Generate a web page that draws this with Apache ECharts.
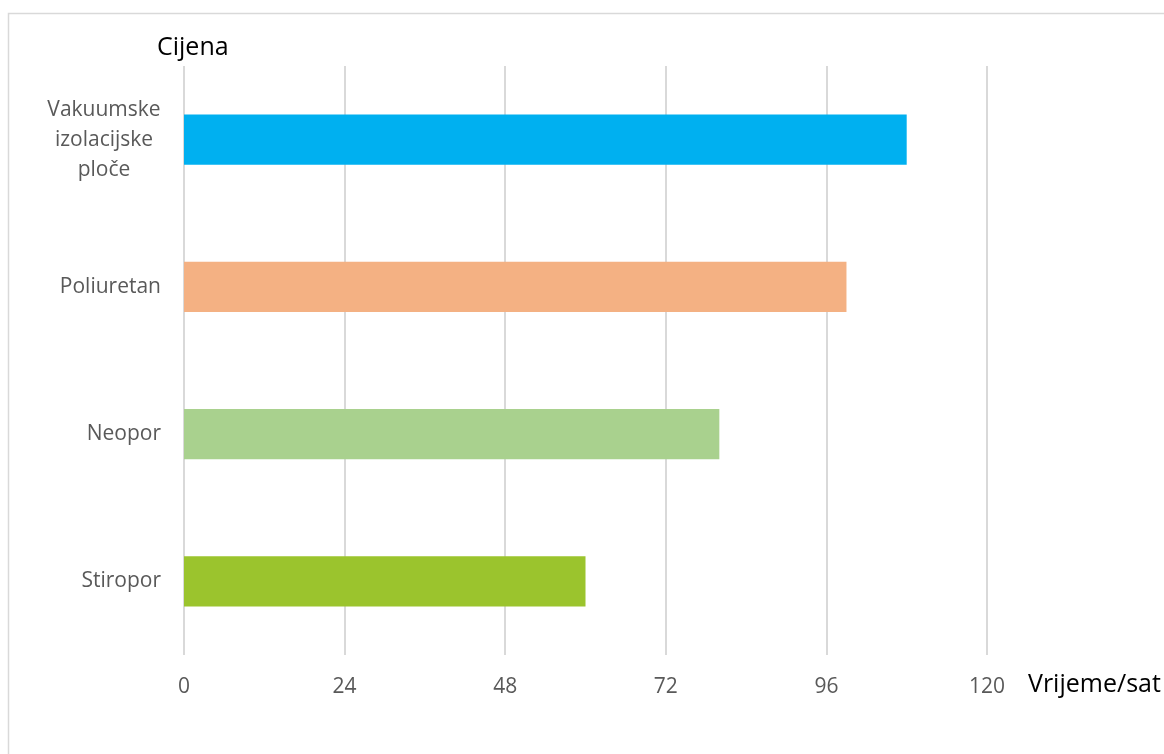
<!DOCTYPE html>
<html>
<head>
<meta charset="utf-8">
<script src="https://cdn.jsdelivr.net/npm/echarts@6/dist/echarts.min.js"></script>
<style>
html,body{margin:0;padding:0;background:#fff;}
#chart{width:1164px;height:754px;}
</style>
</head>
<body>
<div id="chart"></div>
<script>
const categories = ['Vakuumske izolacijske ploče', 'Poliuretan', 'Neopor', 'Stiropor'];
const values = [108, 99, 80, 60];
const barColors = ['#00B0F0', '#F4B183', '#A9D18E', '#9BC42D'];
const xTicks = { min: 0, max: 120, interval: 24 };
const yTitle = 'Cijena';
const xTitle = 'Vrijeme/sat';

const FONT = '"Open Sans", sans-serif';
const chart = echarts.init(document.getElementById('chart'), null, { renderer: 'canvas' });

chart.setOption({
  backgroundColor: '#ffffff',
  animation: false,
  title: {
    text: yTitle,
    left: 152,
    top: 30,
    textStyle: { fontFamily: FONT, fontSize: 25, fontWeight: 'normal', color: '#000000' }
  },
  graphic: [{
    type: 'rect',
    shape: { x: 8.5, y: 13.5, width: 1300, height: 900 },
    style: { fill: 'none', stroke: '#d9d9d9', lineWidth: 1.5 },
    silent: true
  }, {
    type: 'text',
    left: 1028,
    top: 672,
    style: { text: xTitle, font: '25px "Open Sans", sans-serif', fill: '#000000' },
    silent: true
  }],
  grid: { left: 184, right: 177, top: 66, bottom: 99, containLabel: false },
  xAxis: {
    type: 'value',
    min: xTicks.min,
    max: xTicks.max,
    interval: xTicks.interval,
    axisLine: { show: false },
    axisTick: { show: false },
    axisLabel: { fontFamily: FONT, fontSize: 21, color: '#595959', margin: 22 },
    splitLine: { show: true, lineStyle: { color: '#d9d9d9', width: 2 } }
  },
  yAxis: {
    type: 'category',
    data: categories,
    inverse: true,
    axisLine: { show: false },
    axisTick: { show: false },
    axisLabel: {
      fontFamily: FONT, fontSize: 21, color: '#595959', margin: 23, lineHeight: 30,
      formatter: function (v) {
        const parts = v.split(' ');
        if (parts.length > 1) {
          return parts.map(p => '{c|' + p + '}').join('\n');
        }
        return v;
      },
      rich: {
        c: { fontFamily: FONT, fontSize: 21, color: '#595959', lineHeight: 30, width: 114, align: 'center' }
      }
    },
    splitLine: { show: false }
  },
  series: [{
    type: 'bar',
    barWidth: '34%',
    data: values.map((v, i) => ({ value: v, itemStyle: { color: barColors[i] } }))
  }]
});
</script>
</body>
</html>
